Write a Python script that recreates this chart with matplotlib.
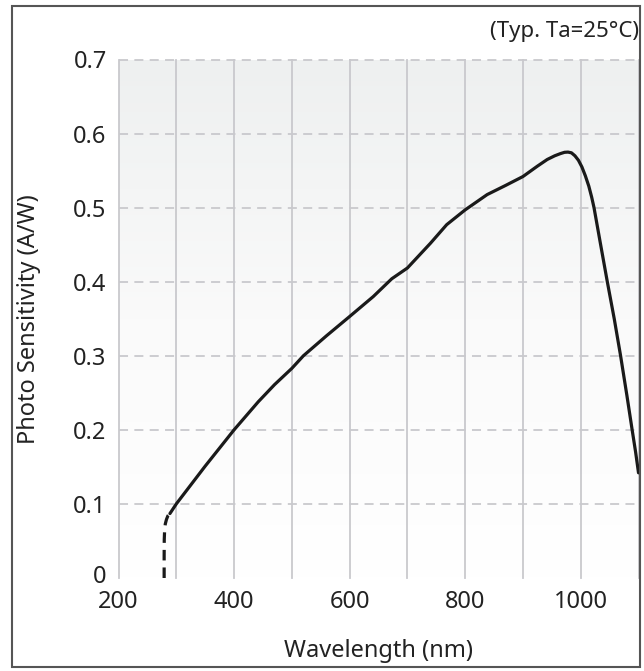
import numpy as np
import matplotlib
matplotlib.use('Agg')
import matplotlib.pyplot as plt
from matplotlib.patches import Rectangle
from matplotlib.transforms import ScaledTranslation

plt.rcParams['font.family'] = ['Noto Sans', 'DejaVu Sans']

wl_dashed = [279, 279, 279.2, 279.8, 281, 283, 285.5, 289]
sens_dashed = [0.0, 0.03, 0.052, 0.064, 0.073, 0.079, 0.084, 0.087]

wl_solid = [289, 300, 350, 400, 442, 470, 500, 520, 560, 600, 641, 673, 700,
            740, 768, 800, 838, 870, 900, 925, 942, 955, 965, 972, 978, 984,
            990, 996, 1002, 1008, 1014, 1019, 1023, 1034, 1046, 1058, 1069,
            1080, 1089, 1095, 1100]
sens_solid = [0.087, 0.100, 0.151, 0.200, 0.238, 0.261, 0.283, 0.300, 0.327,
              0.353, 0.380, 0.404, 0.4185, 0.452, 0.477, 0.497, 0.5176, 0.530,
              0.542, 0.556, 0.565, 0.570, 0.573, 0.5747, 0.575, 0.574, 0.570,
              0.564, 0.555, 0.543, 0.529, 0.514, 0.500, 0.452, 0.400, 0.350,
              0.300, 0.246, 0.200, 0.170, 0.142]

x_ticks = [200, 400, 600, 800, 1000]
x_grid = [200, 300, 400, 500, 600, 700, 800, 900, 1000, 1100]
y_ticks = [0, 0.1, 0.2, 0.3, 0.4, 0.5, 0.6, 0.7]
y_tick_labels = ['0', '0.1', '0.2', '0.3', '0.4', '0.5', '0.6', '0.7']

W, H = 644, 671
ax_l, ax_r, ax_t, ax_b = 118.5, 638.5, 59.5, 578
fig = plt.figure(figsize=(W / 100, H / 100), dpi=100)
ax = fig.add_axes([ax_l / W, (H - ax_b) / H, (ax_r - ax_l) / W,
                   (ax_b - ax_t) / H])

ax.set_xlim(200, 1100)
ax.set_ylim(0, 0.7)

# light gray -> white background gradient
grad = np.linspace(0, 1, 256).reshape(-1, 1)
cmap = matplotlib.colors.LinearSegmentedColormap.from_list(
    'bg', ['#ffffff', '#fafafa', '#eef0f0'])
ax.imshow(grad, extent=[200, 1100, 0, 0.7], origin='lower', aspect='auto',
          cmap=cmap, zorder=0)

grid_color = '#c9c9cd'
for gx in x_grid:
    ax.axvline(gx, color=grid_color, lw=1.3, zorder=1, clip_on=False)
for gy in y_ticks[1:]:
    ax.axhline(gy, color=grid_color, lw=1.3, ls=(0, (5, 3.5)), zorder=1,
               clip_on=False)

ax.plot(wl_dashed, sens_dashed, color='#1a1a1a', lw=2.3, ls=(0, (3.3, 2.2)),
        zorder=3)
ax.plot(wl_solid, sens_solid, color='#1a1a1a', lw=2.3, zorder=3,
        solid_joinstyle='round', solid_capstyle='round')

for s in ax.spines.values():
    s.set_visible(False)

ax.set_xticks(x_ticks)
ax.set_xticklabels([str(v) for v in x_ticks])
ax.set_yticks(y_ticks)
ax.set_yticklabels(y_tick_labels)
ax.tick_params(length=0, labelsize=17, labelcolor='#222222')
ax.tick_params(axis='x', pad=9)
ax.tick_params(axis='y', pad=8.5)

# the "0" label sits a little above the baseline in the reference
zero_lbl = ax.get_yticklabels()[0]
zero_lbl.set_transform(zero_lbl.get_transform() +
                       ScaledTranslation(0, 4 / 100, fig.dpi_scale_trans))

ax.set_xlabel('Wavelength (nm)', fontsize=17, color='#222222', va='center')
ax.xaxis.set_label_coords(0.5, (ax_b - 651) / (ax_b - ax_t))
ax.set_ylabel('Photo Sensitivity (A/W)', fontsize=17, color='#222222',
              va='center')
ax.yaxis.set_label_coords((29 - ax_l) / (ax_r - ax_l), 0.5)

fig.text(639 / W, 1 - 36.7 / H, '(Typ. Ta=25°C)', fontsize=16,
         color='#222222', ha='right', va='baseline')

# outer frame
fig.patches.append(Rectangle((12 / W, 1 - 667 / H), 628 / W, 661 / H,
                             transform=fig.transFigure, fill=False,
                             edgecolor='#555555', lw=1.5))

fig.savefig('out.png', dpi=100)
